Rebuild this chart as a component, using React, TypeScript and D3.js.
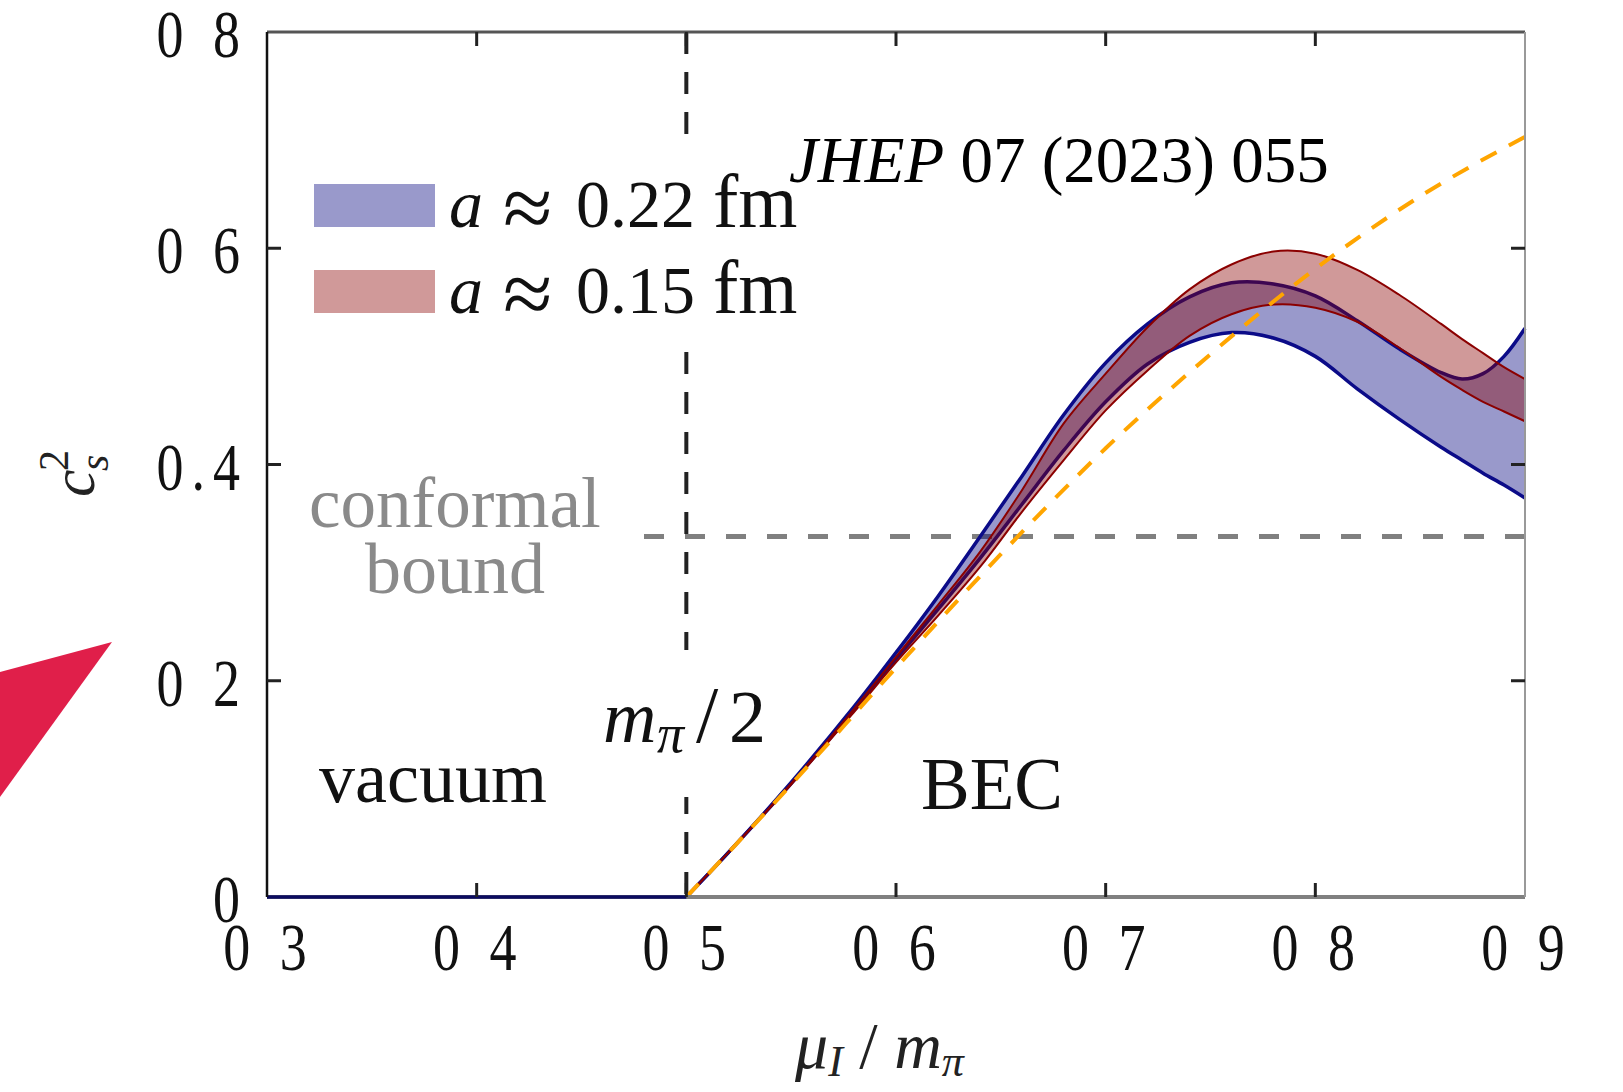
import React from "react"
import * as d3 from "d3"

const width = 1623
const height = 1092

// mu_I / m_pi grid for the BEC phase
const muBEC = [0.5, 0.52, 0.55, 0.58, 0.6, 0.62, 0.64, 0.66, 0.68, 0.7, 0.72, 0.74, 0.76, 0.78, 0.8, 0.82, 0.84, 0.86, 0.87, 0.88, 0.89, 0.9]
// a ~ 0.22 fm band
const coarseUpper = [0, 0.041, 0.106, 0.176, 0.226, 0.278, 0.333, 0.389, 0.446, 0.494, 0.53, 0.555, 0.568, 0.567, 0.556, 0.533, 0.507, 0.485, 0.479, 0.484, 0.5, 0.526]
const coarseLower = [0, 0.041, 0.105, 0.173, 0.22, 0.266, 0.313, 0.363, 0.413, 0.458, 0.493, 0.513, 0.522, 0.517, 0.5, 0.47, 0.442, 0.416, 0.404, 0.392, 0.381, 0.369]
// a ~ 0.15 fm band
const fineUpper = [0, 0.041, 0.105, 0.174, 0.222, 0.27, 0.319, 0.376, 0.438, 0.484, 0.527, 0.562, 0.585, 0.597, 0.595, 0.58, 0.557, 0.53, 0.516, 0.503, 0.49, 0.479]
const fineLower = [0, 0.041, 0.104, 0.171, 0.217, 0.26, 0.305, 0.356, 0.404, 0.45, 0.487, 0.519, 0.539, 0.548, 0.545, 0.532, 0.508, 0.481, 0.469, 0.458, 0.449, 0.44]
// vacuum phase
const muVacuum = [0.3, 0.4, 0.5]
const cs2Vacuum = [0, 0, 0]
// chiral perturbation theory (orange dashed)
const chptMu = [0.5, 0.52, 0.55, 0.6, 0.65, 0.7, 0.75, 0.8, 0.85, 0.9]
const chptCs2 = [0, 0.041, 0.104, 0.212, 0.317, 0.415, 0.502, 0.581, 0.648, 0.703]
const conformalBound = 1 / 3
const onsetMu = 0.5

const xTicks = [0.3, 0.4, 0.5, 0.6, 0.7, 0.8, 0.9]
const xTickLabels = ["0 3", "0 4", "0 5", "0 6", "0 7", "0 8", "0 9"]
const yTicks = [0, 0.2, 0.4, 0.6, 0.8]
const yTickLabels = ["0", "0 2", "0.4", "0 6", "0 8"]

const legendLabels = ["0.22", "0.15"]

const serif = "'Liberation Serif', 'DejaVu Serif', serif"

export default function App() {
  const x = d3.scaleLinear().domain([0.3, 0.9]).range([267, 1525])
  const y = d3.scaleLinear().domain([0, 0.8]).range([897, 32])
  const [x0, x1] = x.range()
  const [y0, y1] = y.range()

  const curve = d3.curveCatmullRom.alpha(0.5)
  const bandData = (lo: number[], hi: number[]) => muBEC.map((m, i) => ({ m, lo: lo[i], hi: hi[i] }))
  const area = d3.area<any>().x(d => x(d.m)).y0(d => y(d.lo)).y1(d => y(d.hi)).curve(curve)
  const lineLo = d3.line<any>().x(d => x(d.m)).y(d => y(d.lo)).curve(curve)
  const lineHi = d3.line<any>().x(d => x(d.m)).y(d => y(d.hi)).curve(curve)
  const coarse = bandData(coarseLower, coarseUpper)
  const fine = bandData(fineLower, fineUpper)

  const vacLine = d3.line<number>().x((d, i) => x(muVacuum[i])).y(d => y(d))
  const chptLine = d3.line<number>().x((d, i) => x(chptMu[i])).y(d => y(d)).curve(d3.curveMonotoneX)

  const tickLen = 14

  return (
    <svg width={width} height={height} style={{ position: "absolute", left: 0, top: 0, background: "#fff" }}>
      {/* red arrow fragment on the left edge */}
      <polygon points="0,672 112,642 0,797" fill="#e01f4a" />

      {/* reference lines */}
      <line x1={x(onsetMu)} x2={x(onsetMu)} y1={y1} y2={y0} stroke="#222" strokeWidth={4} strokeDasharray="22 18" />
      <line x1={x0} x2={x1} y1={y(conformalBound)} y2={y(conformalBound)} stroke="#808080" strokeWidth={5} strokeDasharray="20 21" strokeDashoffset={-8} />

      {/* label boxes (white, hide the dashed lines) */}
      <rect x={300} y={144} width={505} height={203} fill="#fff" />
      <rect x={598} y={650} width={174} height={147} fill="#fff" />
      <rect x={269} y={455} width={375} height={155} fill="#fff" />

      {/* a ~ 0.22 fm */}
      <path d={area(coarse) || ""} fill="rgba(0,0,124,0.4)" />
      <path d={lineHi(coarse) || ""} fill="none" stroke="#0b0b88" strokeWidth={3.5} />
      <path d={lineLo(coarse) || ""} fill="none" stroke="#0b0b88" strokeWidth={3.5} />
      {/* a ~ 0.15 fm */}
      <path d={area(fine) || ""} fill="rgba(137,0,0,0.4)" />
      <path d={lineHi(fine) || ""} fill="none" stroke="#8b0000" strokeWidth={2} />
      <path d={lineLo(fine) || ""} fill="none" stroke="#8b0000" strokeWidth={2} />

      <path d={chptLine(chptCs2) || ""} fill="none" stroke="#ffa500" strokeWidth={4} strokeDasharray="18 14" />

      {/* frame */}
      <line x1={x0} x2={x1} y1={y0} y2={y0} stroke="#808080" strokeWidth={4} />
      <path d={vacLine(cs2Vacuum) || ""} fill="none" stroke="#0b0b60" strokeWidth={3.5} />
      <line x1={x0} x2={x1} y1={y1} y2={y1} stroke="#555" strokeWidth={3} />
      <line x1={x0} x2={x0} y1={y1} y2={y0} stroke="#111" strokeWidth={2.5} />
      <line x1={x1} x2={x1} y1={y1} y2={y0} stroke="#999" strokeWidth={2} />

      {xTicks.slice(1, -1).map(t => (
        <g key={"xt" + t}>
          <line x1={x(t)} x2={x(t)} y1={y0} y2={y0 - tickLen} stroke="#222" strokeWidth={3} />
          <line x1={x(t)} x2={x(t)} y1={y1} y2={y1 + tickLen} stroke="#222" strokeWidth={3} />
        </g>
      ))}
      {yTicks.slice(1, -1).map(t => (
        <g key={"yt" + t}>
          <line x1={x0} x2={x0 + tickLen} y1={y(t)} y2={y(t)} stroke="#222" strokeWidth={3} />
          <line x1={x1} x2={x1 - tickLen} y1={y(t)} y2={y(t)} stroke="#222" strokeWidth={3} />
        </g>
      ))}

      {/* tick labels */}
      <g fontFamily={serif} fontSize={54} fill="#111" letterSpacing={8}>
        {xTicks.map((t, i) => (
          <text key={"xl" + t} transform={`translate(${x(t) + 2},970) scale(1,1.27)`} textAnchor="middle">
            {xTickLabels[i]}
          </text>
        ))}
        {yTicks.map((t, i) => (
          <text key={"yl" + t} transform={`translate(248,${y(t) + 25}) scale(1,1.27)`} textAnchor="end">
            {yTickLabels[i]}
          </text>
        ))}
      </g>

      {/* legend */}
      {legendLabels.map((lab, i) => (
        <g key={lab} transform={`translate(0,${i * 86})`} fontFamily={serif} fill="#111">
          <rect x={314} y={184} width={121} height={43} fill={i === 0 ? "rgba(0,0,124,0.4)" : "rgba(137,0,0,0.4)"} />
          <text x={449} y={227} fontSize={68} fontStyle="italic">a</text>
          <text x={503} y={238} fontSize={90}>≈</text>
          <text x={576} y={227} fontSize={68}>{lab}</text>
          <text x={713} y={227} fontSize={76}>fm</text>
        </g>
      ))}

      {/* annotations */}
      <text x={309} y={527} fontFamily={serif} fontSize={71} fill="#8a8a8a">conformal</text>
      <text x={365} y={593} fontFamily={serif} fontSize={72} fill="#8a8a8a">bound</text>
      <text x={319} y={802} fontFamily={serif} fontSize={72} fill="#111">vacuum</text>
      <text x={921} y={809} fontFamily={serif} fontSize={73} fill="#111">BEC</text>
      <g fontFamily={serif} fill="#111">
        <text x={603} y={742} fontSize={74} fontStyle="italic">m</text>
        <text x={657} y={752} fontSize={54} fontStyle="italic">π</text>
        <text x={696} y={742} fontSize={80}>/</text>
        <text x={729} y={742} fontSize={74}>2</text>
      </g>

      <text x={789} y={182} fontFamily={serif} fontSize={65} fill="#000">
        <tspan fontStyle="italic">JHEP</tspan> 07 (2023) 055
      </text>

      {/* axis titles */}
      <text x={795} y={1068} fontFamily={serif} fontSize={66} fill="#222" fontStyle="italic">
        μ<tspan fontSize={44} dy={8}>I</tspan>
        <tspan dy={-8} fontStyle="normal"> / </tspan>m<tspan fontSize={44} dy={8}>π</tspan>
      </text>
      <g transform="translate(94,497) rotate(-90)" fontFamily={serif} fill="#222" fontStyle="italic">
        <text x={0} y={0} fontSize={62}>c</text>
        <text x={26} y={-26} fontSize={42} fontStyle="normal">2</text>
        <text x={26} y={14} fontSize={42}>s</text>
      </g>
    </svg>
  )
}
